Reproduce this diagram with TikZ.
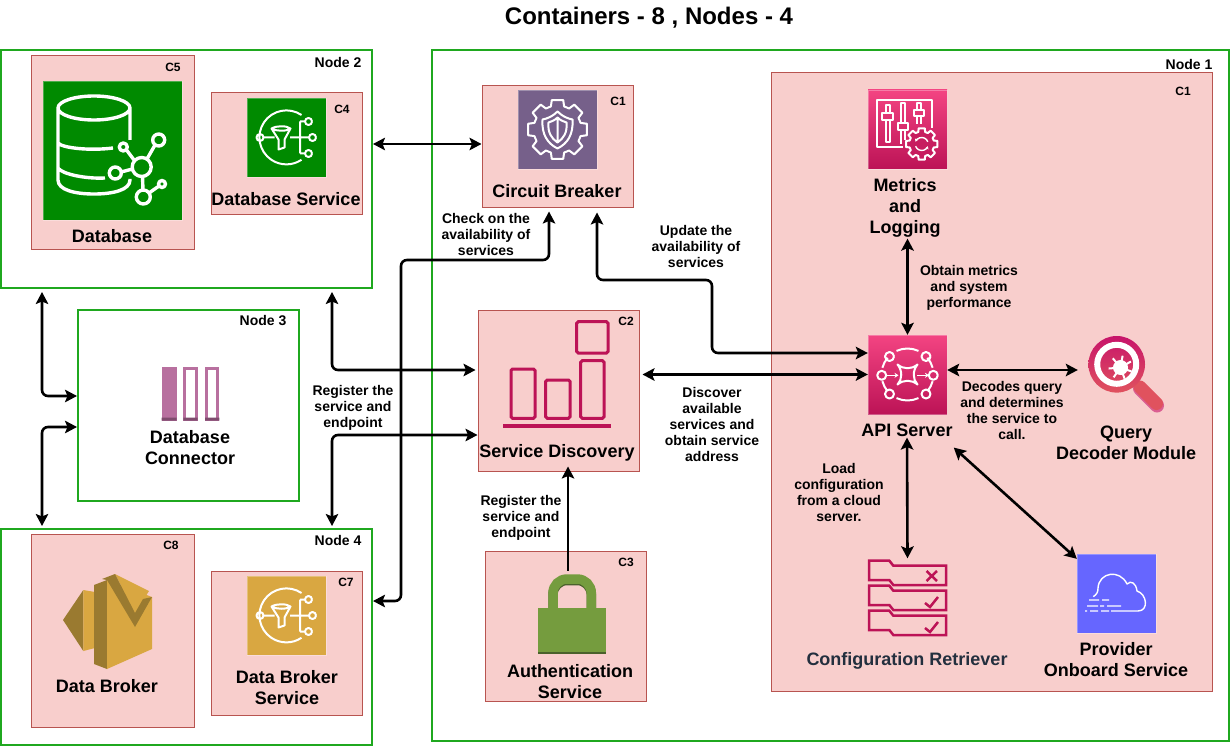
\documentclass[tikz,border=0pt]{standalone}
\usepackage{fontspec}
\setmainfont{Liberation Sans}
\usetikzlibrary{arrows.meta}
\definecolor{boxfill}{HTML}{F8CECC}
\definecolor{boxline}{HTML}{B85450}
\definecolor{nodeline}{HTML}{1FA81F}
\definecolor{dbgreen}{HTML}{008A00}
\definecolor{broker}{HTML}{D9A741}
\definecolor{brokerdark}{HTML}{9A7A30}
\definecolor{gearpurple}{HTML}{76608A}
\definecolor{crimson}{HTML}{BC1356}
\definecolor{crimsonup}{HTML}{F34482}
\definecolor{cloudblue}{HTML}{6666FF}
\definecolor{lockgreen}{HTML}{759C3E}
\definecolor{lockdark}{HTML}{4B612C}
\definecolor{connpink}{HTML}{B8709F}
\definecolor{conndark}{HTML}{7F4C6E}
\definecolor{cfgtext}{HTML}{232F3E}
\definecolor{lensup}{HTML}{C7146A}
\definecolor{lensdown}{HTML}{E0525E}
\tikzset{
nodebox/.style={draw=nodeline,line width=2pt,fill=white,inner sep=0pt},
svcbox/.style={draw=boxline,line width=1pt,fill=boxfill,inner sep=0pt},
icon/.style={minimum size=79,inner sep=0pt,draw=white,draw opacity=.3},
hollow/.style={inner sep=0pt},
nodetag/.style={font=\bfseries\fontsize{14}{16}\selectfont},
boxtag/.style={font=\bfseries\fontsize{12}{14}\selectfont},
svcname/.style={font=\bfseries\fontsize{18}{21}\selectfont,align=center,inner sep=1pt},
linknote/.style={font=\bfseries\fontsize{14}{16}\selectfont,align=center,inner sep=0pt},
link/.style={<->,>={Stealth[length=12pt,width=12.5pt,inset=2.5pt]},line width=2.6pt,rounded corners=6pt},
glyph/.style={draw=white,line width=2pt,line join=round},
snsicon/.pic={
\draw[glyph] (15,-22.5) arc[start angle=56,end angle=304,radius=27pt]
(-22.5,0) -- (-12,0) (3.5,0) -- (22,0) (13.5,-16) -- (13.5,16)
(13.5,-16) -- (18.5,-16) (13.5,16) -- (18.5,16)
(-15,-9) .. controls (-10,-12) and (0,-12) .. (4,-9) .. controls (0,-6) and (-10,-6) .. (-15,-9) -- (-8,2) -- (-8,12) -- (-2,10) -- (-2,2) -- (4,-9)
\foreach \x/\y in {-26.5/0,22/-16,26/0,22/16}{(\x+3.5,\y) arc[start angle=0,end angle=360,radius=3.5pt]}
;
}
}
\newcommand{\gearpath}[2]{(-11:#1) \foreach \a in {0,45,...,315}{-- (\a-11:#1) -- (\a+11:#1) -- (\a+16:#2) -- (\a+29:#2)} -- cycle}

\begin{document}
\begin{tikzpicture}[x=1pt,y=-1pt]
\useasboundingbox (0,0) rectangle (1230,746);
\foreach \n/\x/\y/\w/\h in {nodeone/830.5/395.5/797/691,nodetwo/186.5/169/371/238,nodethree/188.5/405.5/221/191,nodefour/186.5/637/371/216}{
\node[nodebox,minimum width=\w,minimum height=\h] (\n) at (\x,\y) {};
}
\foreach \n/\x/\y/\w/\h in {dbbox/112.5/152.5/163/193,dbsvcbox/286.5/153.5/151/121,brokerbox/112.5/630.5/163/193,brsvcbox/286.5/643/151/144,cbbox/557.5/146.5/151/121,sdbox/558.5/390.5/161/161,authbox/565.5/626/161/150,apibox/991.5/382/441/618}{
\node[svcbox,minimum width=\w,minimum height=\h] (\n) at (\x,\y) {};
}
\node[icon,fill=dbgreen,minimum size=139] (dbicon) at (112.5,150.5) {};
\node[icon,fill=dbgreen] (dbsvcicon) at (286.5,137.5) {};
\node[icon,fill=broker] (brsvcicon) at (286.5,615.5) {};
\node[icon,fill=gearpurple] (cbicon) at (557.5,129.5) {};
\node[icon,top color=crimsonup,bottom color=crimson] (metricsicon) at (907.5,129.5) {};
\node[icon,top color=crimsonup,bottom color=crimson] (apiicon) at (907.5,374.5) {};
\node[icon,fill=cloudblue] (provicon) at (1116.5,593.5) {};
\node[hollow,minimum width=79,minimum height=79] (cfgicon) at (907.5,598) {};
\node[hollow,minimum width=96,minimum height=80] (queryicon) at (1126,370) {};
\node[hollow,minimum width=76,minimum height=86] (lockicon) at (568,614) {};
\pic at (dbsvcicon.center) {snsicon};
\pic at (brsvcicon.center) {snsicon};
\draw[glyph,line width=3.4pt] (94,108) ellipse[x radius=36pt,y radius=12pt]
(58,108) -- (58,180) .. controls (58,190) and (75,194) .. (94,194) .. controls (113,194) and (130,190) .. (130,180) -- (130,179)
(130,108) -- (130,140)
(58,143) .. controls (62,148) and (90,151) .. (113,148)
(58,168) .. controls (62,174) and (85,179) .. (105,178);
\draw[glyph,line width=3.4pt] (141.7,167) circle[radius=9.5pt]
(158.7,140) circle[radius=6pt] (123.3,147) circle[radius=4pt] (115.3,173) circle[radius=6pt] (143.3,197) circle[radius=7pt] (162,184) circle[radius=3.5pt]
(147,159) -- (155,145) (134,160) -- (126.5,150) (132.5,169) -- (121,172) (142.5,176.5) -- (143,190) (149,193) -- (159,186);
\fill[brokerdark] (63,620) -- (83.3,590) -- (83.3,651) -- cycle;
\fill[broker] (83.3,590) -- (95,592) -- (95,648) -- (83.3,651) -- cycle;
\fill[brokerdark] (94,585) -- (107,580) -- (107,669) -- (94,664) -- cycle;
\fill[broker] (107,580) -- (152,597) -- (152,649) -- (107,669) -- cycle;
\fill[broker] (115,574) -- (149,591) -- (135,613) -- cycle;
\fill[brokerdark] (102,579) -- (115,574) -- (135,613) -- (143,599) -- (152,597) -- (135,627) -- (107,580) -- cycle;
\begin{scope}[shift={(cbicon.center)}]
\draw[glyph] \gearpath{30}{24};
\draw[glyph] (0,-18) .. controls (-5,-13) and (-10,-11) .. (-15,-10) .. controls (-16,5) and (-10,14) .. (0,19) .. controls (10,14) and (16,5) .. (15,-10) .. controls (10,-11) and (5,-13) .. (0,-18) -- cycle
(0,-12) .. controls (-3,-9) and (-6,-8) .. (-9,-7) .. controls (-10,3) and (-6,9) .. (0,13) .. controls (6,9) and (10,3) .. (9,-7) .. controls (6,-8) and (3,-9) .. (0,-12) -- (0,13);
\end{scope}
\draw[glyph] (931.7,128) -- (931.7,100) -- (876.7,100) -- (876.7,146.7) -- (903,146.7)
(885.5,113) -- (885.5,105) -- (890,105) -- (890,113) (885.5,120) -- (885.5,142) -- (890,142) -- (890,120)
(882,113) rectangle (893,120)
(901,123) -- (901,103) -- (905,103) -- (905,123) (901,130) -- (901,144) (905,130) -- (905,140)
(898,123) rectangle (908,130)
(917,110) -- (917,103) -- (921,103) -- (921,110) (917,116) -- (917,124) (921,116) -- (921,124)
(914,110) rectangle (924,116);
\begin{scope}[shift={(921.7,144)}]
\draw[glyph,fill=crimson!80!crimsonup] \gearpath{16}{12.5};
\draw[white,line width=1.4pt,-{Stealth[length=3pt,width=3.5pt]}] (20:6.5pt) arc[start angle=20,end angle=160,radius=6.5pt];
\draw[white,line width=1.4pt,-{Stealth[length=3pt,width=3.5pt]}] (200:6.5pt) arc[start angle=200,end angle=340,radius=6.5pt];
\end{scope}
\begin{scope}[shift={(apiicon.center)}]
\draw[glyph] \foreach \a/\b in {65/115,140/165,195/220,245/295,320/345,15/40}{(\a:26pt) arc[start angle=\a,end angle=\b,radius=26pt]}
\foreach \x/\y in {-18/-18,18.5/-18,-18/19.5,18.5/19.5,-25.8/0.8,25.8/0.8}{(\x+4.5,\y) arc[start angle=0,end angle=360,radius=4.5pt]}
(-10,-10) .. controls (-4,-5) and (4,-5) .. (10,-10) .. controls (5,-4) and (5,5) .. (10,10) .. controls (4,5) and (-4,5) .. (-10,10) .. controls (-5,5) and (-5,-4) .. (-10,-10) -- cycle;
\draw[white,line width=1.6pt,-{Stealth[length=4pt,width=5pt]}] (-21.5,0.8) -- (-9,0.8);
\draw[white,line width=1.6pt,-{Stealth[length=4pt,width=5pt]}] (9.5,0.8) -- (21.5,0.8);
\end{scope}
\draw[line width=14pt,line cap=round,lensup!60!boxfill] (1140,388.5) -- (1157,405.5);
\draw[line width=13pt,line cap=round,lensdown] (1140,387) -- (1156.5,403.5);
\shade[top color=lensup,bottom color=lensdown] (1116.7,364.3) circle[radius=28.3pt];
\draw[white,line width=6pt] (1116.7,364.3) circle[radius=19.5pt];
\fill[white] (1120.5,367.5) circle[radius=7.5pt];
\draw[white,line width=2pt] \foreach \a in {30,80,130,185,235,290,340}{(1120.5,367.5) -- ++(\a:12pt)};
\draw[crimson,line width=3pt,rounded corners=1.5pt] (576.7,321.7) rectangle (608,353) (580.7,360.7) rectangle (604,418.3) (511,369) rectangle (535,418.3) (545.7,380) rectangle (570,418.3);
\draw[crimson,line width=4pt] (503,426) -- (611,426);
\fill[connpink] (161.7,367.3) rectangle (176.7,420.7);
\draw[connpink,line width=3pt,fill=white] (184.8,368.8) rectangle (196.2,419) (206.5,368.8) rectangle (217.8,419);
\fill[conndark] (161.7,417.5) rectangle (176.7,420.7) (183.3,417.5) rectangle (197.7,420.7) (205,417.5) rectangle (219.3,420.7);
\draw[lockdark,line width=9.5pt,rounded corners=14pt] (553,610) -- (553,580.5) -- (591.3,580.5) -- (591.3,610);
\draw[lockgreen,line width=9.5pt,rounded corners=14pt] (553,610) -- (553,579) -- (591.3,579) -- (591.3,610);
\fill[lockgreen] (538.3,608.3) rectangle (606,652);
\fill[lockdark] (538.3,651.5) rectangle (606,654);
\foreach \dy in {0,25,50}{
\draw[crimson,line width=2.5pt,shift={(0,\dy)}] (869,560.7) -- (889.3,560.7) -- (893.3,565.7) -- (946,565.7) -- (946,585) -- (893.3,585) -- (889.3,580) -- (869,580) -- cycle;
}
\draw[crimson,line width=2.5pt] (926.5,571) -- (937,581) (937,571) -- (926.5,581)
(925,603) -- (930,607) -- (938,597) (925,628) -- (930,632) -- (938,622);
\draw[glyph,line width=1.4pt] (1093.3,596.7) .. controls (1097,594) and (1098,592) .. (1098,588) .. controls (1099,572) and (1120,569) .. (1127,584) .. controls (1131,580) and (1136,583) .. (1137,591) .. controls (1147,594) and (1149,611) .. (1138,611) -- (1111,611)
(1089,600) -- (1099,600) (1102,600) -- (1109,600)
(1087,606) -- (1098,606) (1100,606) -- (1104,606) (1107,606) -- (1121,606)
(1085,611) -- (1087,611) (1090,611) -- (1098,611) (1101,611) -- (1109,611);
\draw[link] (cbbox.west |- 0,144) -- (nodetwo.east |- 0,144);
\draw[link,shorten >=4pt] (nodefour.east |- 0,601) -- (401,601) -- (401,260) -- (549,260) -- (cbbox.south -| 549,0);
\draw[link,shorten <=5pt] (cbbox.south -| 597,0) -- (597,280) -- (712,280) -- (712,353) -- (apiicon.west |- 0,353);
\draw[link,shorten <=3pt,shorten >=2pt] (nodetwo.south -| 332,0) -- (332,370) -- (sdbox.west |- 0,370);
\draw[link,shorten <=2pt] (nodefour.north -| 332,0) -- (332,435) -- (sdbox.west |- 0,435);
\draw[link,shorten <=3pt] (sdbox.east |- apiicon.west) -- (apiicon.west);
\draw[link,shorten <=3pt] (nodetwo.south -| 42,0) -- (42,396) -- (nodethree.west |- 0,396);
\draw[link,shorten >=2pt] (nodethree.west |- 0,427) -- (42,427) -- (nodefour.north -| 42,0);
\draw[link,<-] ([yshift=5pt]sdbox.south -| lockicon.north) -- (lockicon.north);
\node[svcname] (metricsname) at (905,208) {Metrics\\and\\Logging};
\node[svcname] (apiname) at (907,430) {API Server};
\draw[link] (metricsname.south -| apiicon.north) -- (apiicon.north);
\draw[link] (apiicon.east |- queryicon.west) -- (queryicon.west);
\draw[link] (apiname.south) -- (cfgicon.north);
\draw[link] ([yshift=-10pt]apiname.south east) -- ([yshift=-5pt]provicon.north west);
\node[svcname] (dbname) at (112,236) {Database};
\node[svcname] (dbsvcname) at (286,199) {Database Service};
\node[svcname] (brokername) at (107,686) {Data Broker};
\node[svcname] (brsvcname) at (287,688) {Data Broker\\Service};
\node[svcname] (cbname) at (557,191) {Circuit Breaker};
\node[svcname] (sdname) at (557,453) {Service Discovery};
\node[svcname] (authname) at (570,682) {Authentication\\Service};
\node[svcname] (queryname) at (1126,443) {Query\\Decoder Module};
\node[svcname,text=cfgtext] (cfgname) at (907,661) {Configuration Retriever};
\node[svcname] (provname) at (1116,660) {Provider\\Onboard Service};
\node[svcname] (connname) at (190,448) {Database\\Connector};
\foreach \n/\x/\y/\t in {tagone/1189/64/Node 1,tagtwo/338/62/Node 2,tagthree/263/321/Node 3,tagfour/338/540/Node 4}{
\node[nodetag] (\n) at (\x,\y) {\t};
}
\foreach \n/\x/\y/\t in {tagdb/173/67/C5,tagdbsvc/342/109/C4,tagbroker/171/545/C8,tagbrsvc/346/582/C7,tagcb/618/101/C1,tagapi/1183/91/C1,tagsd/626/321/C2,tagauth/626/562/C3}{
\node[boxtag] (\n) at (\x,\y) {\t};
}
\foreach \n/\x/\y/\t in {notecheck/486/234/{Check on the\\availability of\\services},noteupdate/696/246/{Update the\\availability of\\services},notemetrics/969/288/{Obtain metrics\\and system\\performance},noteregone/353/408/{Register the\\service and\\endpoint},notediscover/712/424/{Discover\\available\\services and\\obtain service\\address},notedecode/1012/410/{Decodes query\\and determines\\the service to\\call.},noteload/839/492/{Load\\configuration\\from a cloud\\server.},noteregtwo/521/518/{Register the\\service and\\endpoint}}{
\node[linknote] (\n) at (\x,\y) {\t};
}
\node[font=\bfseries\fontsize{24}{28}\selectfont] (title) at (649,18) {Containers - 8 , Nodes - 4};
\end{tikzpicture}
\end{document}
